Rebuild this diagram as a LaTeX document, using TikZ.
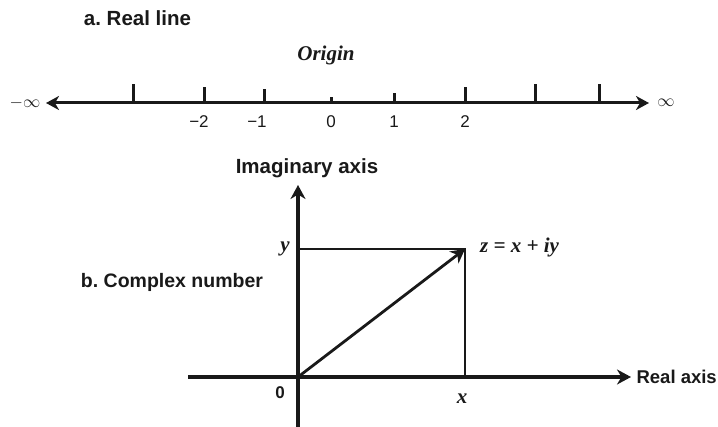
\documentclass[tikz,border=0pt]{standalone}
\usepackage{fontspec}
\setmainfont{Liberation Sans}
\newfontfamily\serifit{Liberation Serif}
\usetikzlibrary{arrows.meta}
\begin{document}
\begin{tikzpicture}[x=1pt,y=-1pt,
  axisline/.style={line width=3.2pt, draw=black!90, arrows={-Stealth[length=14pt,width=15pt,inset=4.5pt]}},
  thinline/.style={line width=2.2pt, draw=black!90},
  tickline/.style={line width=3pt, draw=black!90},
  boldlab/.style={font=\fontsize{20.5}{22}\selectfont\bfseries, text=black!90, inner sep=0pt},
  numlab/.style={font=\fontsize{17}{19}\selectfont, text=black!90, inner sep=0pt},
  serlab/.style={font=\fontsize{21}{23}\selectfont\serifit\bfseries\itshape, text=black!90, inner sep=0pt}]
\useasboundingbox (0,0) rectangle (718,427);

% ---- a. Real line
\node[boldlab] (titleA) at (137.5,18) {a.\ Real line};
\node[serlab] (origin) at (326,55) {Origin};
\coordinate (L) at (46,103);
\coordinate (R) at (649,103);
\draw[axisline, line width=3pt, arrows={Stealth[length=13pt,width=14pt,inset=4pt]-Stealth[length=13pt,width=14pt,inset=4pt]}] (L) -- (R);
\node[numlab, font=\fontsize{19}{21}\selectfont] (minf) at (25,103) {$-\infty$};
\node[numlab, font=\fontsize{19}{21}\selectfont] (pinf) at (666,103) {$\infty$};
\foreach \x/\h in {133/19,204/16,264/14,331/6,394/10,465/16,535/19,599/19}
  \draw[tickline] (\x,103) -- (\x,103-\h);
\node[numlab] (nm2) at (199,122) {−2};
\node[numlab] (nm1) at (257,122) {−1};
\node[numlab] (n0) at (331,122) {0};
\node[numlab] (n1) at (394,122) {1};
\node[numlab] (n2) at (465,122) {2};

% ---- b. Complex number
\node[boldlab, font=\fontsize{19.5}{21}\selectfont\bfseries] (titleB) at (172,282) {b.\ Complex number};
\coordinate (O) at (298,377);
\coordinate (Ibot) at (298,427);
\coordinate (Itop) at (298,185);
\coordinate (Rleft) at (188,377);
\coordinate (Rright) at (631,377);
\coordinate (P) at (465,249);
\coordinate (Y) at (298,249);
\coordinate (X) at (465,377);
\draw[axisline] (Ibot) -- (Itop);
\draw[axisline] (Rleft) -- (Rright);
\draw[thinline] (Y) -- (P) -- (X);
\draw[axisline, line width=2.8pt] (O) -- (P);
\node[boldlab] (imag) at (307,168) {Imaginary axis};
\node[boldlab, font=\fontsize{18.5}{20}\selectfont\bfseries, anchor=east] (reax) at (717,377) {Real axis};
\node[serlab] (ylab) at (285,249) {y};
\node[serlab] (xlab) at (462,399) {x};
\node[serlab, anchor=west] (zlab) at (480,247) {z = x + iy};
\node[boldlab, font=\fontsize{17}{19}\selectfont\bfseries] (zero) at (280,393) {0};
\end{tikzpicture}
\end{document}
